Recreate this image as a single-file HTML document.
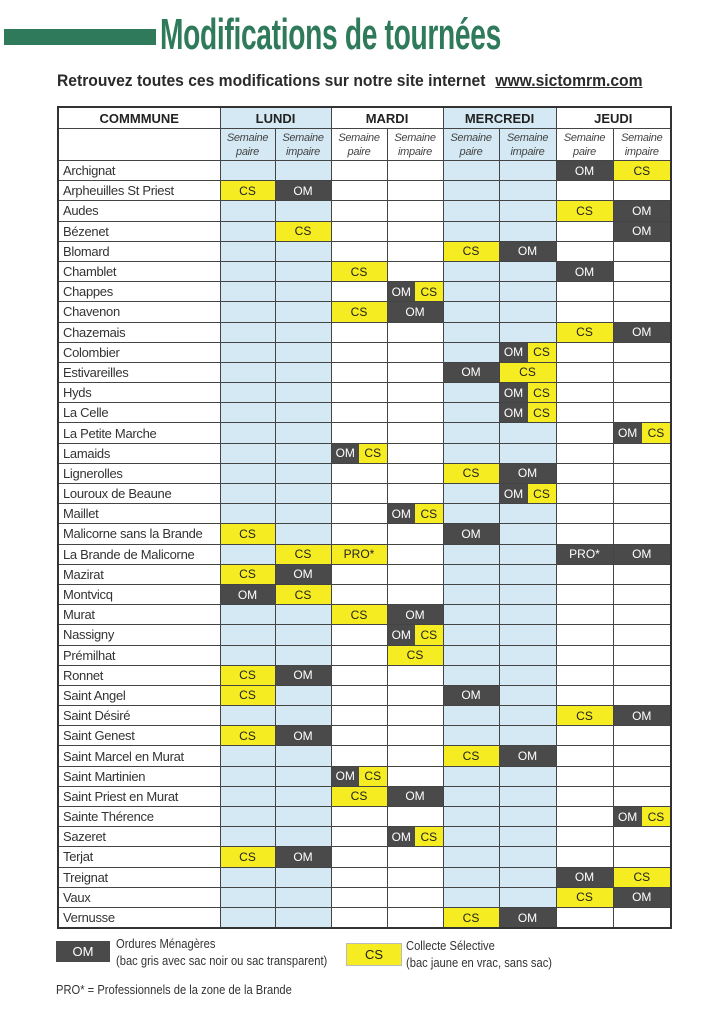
<!DOCTYPE html>
<html><head><meta charset="utf-8">
<style>
body{margin:0;width:724px;height:1024px;background:#fff;position:relative;overflow:hidden;font-family:"Liberation Sans",sans-serif;color:#333}
.bar{position:absolute;left:4px;top:29px;width:152px;height:16px;background:#2e7a5a}
.title{position:absolute;left:160px;top:10px;font-size:44px;font-weight:bold;color:#2e7a5a;white-space:nowrap;transform:scaleX(0.64);transform-origin:left top;letter-spacing:-0.5px}
.sub{position:absolute;left:57px;top:71px;font-size:17px;font-weight:bold;color:#2a2a2a;white-space:nowrap;transform:scaleX(0.92);transform-origin:left top}
.sub u{margin-left:6px}
table{position:absolute;left:57px;top:106px;border-collapse:collapse;table-layout:fixed;width:613px;border:2px solid #333}
td{border:1px solid #444;padding:0;height:19.2px;font-size:12px;text-align:center;white-space:nowrap;overflow:hidden}
td.n{text-align:left;padding-left:4px;font-size:13px;color:#333;letter-spacing:-0.3px}
tr.h td{height:20px;font-weight:bold;font-size:13px;color:#222}
tr.s td{height:31px;font-style:italic;font-size:11px;line-height:14px;color:#444;letter-spacing:-0.3px}
.b{background:#d4e9f3}
.O{background:#4a4a4a;color:#fff}
.C{background:#f6ec22;color:#222}
.G{background:#4a4a4a;color:#fff}
.sp{display:flex;height:100%}
.sp span{flex:1;display:flex;align-items:center;justify-content:center}
.sp .o{background:#4a4a4a;color:#fff}
.sp .c{background:#f6ec22;color:#222}
.leg{position:absolute;font-size:13px;color:#333;line-height:17px;white-space:nowrap;transform:scaleX(0.86);transform-origin:left top}
.box{position:absolute;height:21px;font-size:13px;text-align:center;line-height:21px}
</style></head><body>
<div class="bar"></div>
<div class="title">Modifications de tournées</div>
<div class="sub">Retrouvez toutes ces modifications sur notre site internet <u>www.sictomrm.com</u></div>
<table>
<colgroup><col style="width:162px"><col style="width:55px"><col style="width:56px"><col style="width:56px"><col style="width:56px"><col style="width:56px"><col style="width:57px"><col style="width:57px"><col style="width:58px"></colgroup>
<tr class="h"><td>COMMMUNE</td><td colspan="2" class="b">LUNDI</td><td colspan="2">MARDI</td><td colspan="2" class="b">MERCREDI</td><td colspan="2">JEUDI</td></tr>
<tr class="s"><td></td><td class="b">Semaine<br>paire</td><td class="b">Semaine<br>impaire</td><td>Semaine<br>paire</td><td>Semaine<br>impaire</td><td class="b">Semaine<br>paire</td><td class="b">Semaine<br>impaire</td><td>Semaine<br>paire</td><td>Semaine<br>impaire</td></tr>
<tr><td class="n">Archignat</td><td class="b"></td><td class="b"></td><td></td><td></td><td class="b"></td><td class="b"></td><td class="O">OM</td><td class="C">CS</td></tr>
<tr><td class="n">Arpheuilles St Priest</td><td class="C">CS</td><td class="O">OM</td><td></td><td></td><td class="b"></td><td class="b"></td><td></td><td></td></tr>
<tr><td class="n">Audes</td><td class="b"></td><td class="b"></td><td></td><td></td><td class="b"></td><td class="b"></td><td class="C">CS</td><td class="O">OM</td></tr>
<tr><td class="n">Bézenet</td><td class="b"></td><td class="C">CS</td><td></td><td></td><td class="b"></td><td class="b"></td><td></td><td class="O">OM</td></tr>
<tr><td class="n">Blomard</td><td class="b"></td><td class="b"></td><td></td><td></td><td class="C">CS</td><td class="O">OM</td><td></td><td></td></tr>
<tr><td class="n">Chamblet</td><td class="b"></td><td class="b"></td><td class="C">CS</td><td></td><td class="b"></td><td class="b"></td><td class="O">OM</td><td></td></tr>
<tr><td class="n">Chappes</td><td class="b"></td><td class="b"></td><td></td><td><div class="sp"><span class="o">OM</span><span class="c">CS</span></div></td><td class="b"></td><td class="b"></td><td></td><td></td></tr>
<tr><td class="n">Chavenon</td><td class="b"></td><td class="b"></td><td class="C">CS</td><td class="O">OM</td><td class="b"></td><td class="b"></td><td></td><td></td></tr>
<tr><td class="n">Chazemais</td><td class="b"></td><td class="b"></td><td></td><td></td><td class="b"></td><td class="b"></td><td class="C">CS</td><td class="O">OM</td></tr>
<tr><td class="n">Colombier</td><td class="b"></td><td class="b"></td><td></td><td></td><td class="b"></td><td><div class="sp"><span class="o">OM</span><span class="c">CS</span></div></td><td></td><td></td></tr>
<tr><td class="n">Estivareilles</td><td class="b"></td><td class="b"></td><td></td><td></td><td class="O">OM</td><td class="C">CS</td><td></td><td></td></tr>
<tr><td class="n">Hyds</td><td class="b"></td><td class="b"></td><td></td><td></td><td class="b"></td><td><div class="sp"><span class="o">OM</span><span class="c">CS</span></div></td><td></td><td></td></tr>
<tr><td class="n">La Celle</td><td class="b"></td><td class="b"></td><td></td><td></td><td class="b"></td><td><div class="sp"><span class="o">OM</span><span class="c">CS</span></div></td><td></td><td></td></tr>
<tr><td class="n">La Petite Marche</td><td class="b"></td><td class="b"></td><td></td><td></td><td class="b"></td><td class="b"></td><td></td><td><div class="sp"><span class="o">OM</span><span class="c">CS</span></div></td></tr>
<tr><td class="n">Lamaids</td><td class="b"></td><td class="b"></td><td><div class="sp"><span class="o">OM</span><span class="c">CS</span></div></td><td></td><td class="b"></td><td class="b"></td><td></td><td></td></tr>
<tr><td class="n">Lignerolles</td><td class="b"></td><td class="b"></td><td></td><td></td><td class="C">CS</td><td class="O">OM</td><td></td><td></td></tr>
<tr><td class="n">Louroux de Beaune</td><td class="b"></td><td class="b"></td><td></td><td></td><td class="b"></td><td><div class="sp"><span class="o">OM</span><span class="c">CS</span></div></td><td></td><td></td></tr>
<tr><td class="n">Maillet</td><td class="b"></td><td class="b"></td><td></td><td><div class="sp"><span class="o">OM</span><span class="c">CS</span></div></td><td class="b"></td><td class="b"></td><td></td><td></td></tr>
<tr><td class="n">Malicorne sans la Brande</td><td class="C">CS</td><td class="b"></td><td></td><td></td><td class="O">OM</td><td class="b"></td><td></td><td></td></tr>
<tr><td class="n">La Brande de Malicorne</td><td class="b"></td><td class="C">CS</td><td class="C">PRO*</td><td></td><td class="b"></td><td class="b"></td><td class="G">PRO*</td><td class="O">OM</td></tr>
<tr><td class="n">Mazirat</td><td class="C">CS</td><td class="O">OM</td><td></td><td></td><td class="b"></td><td class="b"></td><td></td><td></td></tr>
<tr><td class="n">Montvicq</td><td class="O">OM</td><td class="C">CS</td><td></td><td></td><td class="b"></td><td class="b"></td><td></td><td></td></tr>
<tr><td class="n">Murat</td><td class="b"></td><td class="b"></td><td class="C">CS</td><td class="O">OM</td><td class="b"></td><td class="b"></td><td></td><td></td></tr>
<tr><td class="n">Nassigny</td><td class="b"></td><td class="b"></td><td></td><td><div class="sp"><span class="o">OM</span><span class="c">CS</span></div></td><td class="b"></td><td class="b"></td><td></td><td></td></tr>
<tr><td class="n">Prémilhat</td><td class="b"></td><td class="b"></td><td></td><td class="C">CS</td><td class="b"></td><td class="b"></td><td></td><td></td></tr>
<tr><td class="n">Ronnet</td><td class="C">CS</td><td class="O">OM</td><td></td><td></td><td class="b"></td><td class="b"></td><td></td><td></td></tr>
<tr><td class="n">Saint Angel</td><td class="C">CS</td><td class="b"></td><td></td><td></td><td class="O">OM</td><td class="b"></td><td></td><td></td></tr>
<tr><td class="n">Saint Désiré</td><td class="b"></td><td class="b"></td><td></td><td></td><td class="b"></td><td class="b"></td><td class="C">CS</td><td class="O">OM</td></tr>
<tr><td class="n">Saint Genest</td><td class="C">CS</td><td class="O">OM</td><td></td><td></td><td class="b"></td><td class="b"></td><td></td><td></td></tr>
<tr><td class="n">Saint Marcel en Murat</td><td class="b"></td><td class="b"></td><td></td><td></td><td class="C">CS</td><td class="O">OM</td><td></td><td></td></tr>
<tr><td class="n">Saint Martinien</td><td class="b"></td><td class="b"></td><td><div class="sp"><span class="o">OM</span><span class="c">CS</span></div></td><td></td><td class="b"></td><td class="b"></td><td></td><td></td></tr>
<tr><td class="n">Saint Priest en Murat</td><td class="b"></td><td class="b"></td><td class="C">CS</td><td class="O">OM</td><td class="b"></td><td class="b"></td><td></td><td></td></tr>
<tr><td class="n">Sainte Thérence</td><td class="b"></td><td class="b"></td><td></td><td></td><td class="b"></td><td class="b"></td><td></td><td><div class="sp"><span class="o">OM</span><span class="c">CS</span></div></td></tr>
<tr><td class="n">Sazeret</td><td class="b"></td><td class="b"></td><td></td><td><div class="sp"><span class="o">OM</span><span class="c">CS</span></div></td><td class="b"></td><td class="b"></td><td></td><td></td></tr>
<tr><td class="n">Terjat</td><td class="C">CS</td><td class="O">OM</td><td></td><td></td><td class="b"></td><td class="b"></td><td></td><td></td></tr>
<tr><td class="n">Treignat</td><td class="b"></td><td class="b"></td><td></td><td></td><td class="b"></td><td class="b"></td><td class="O">OM</td><td class="C">CS</td></tr>
<tr><td class="n">Vaux</td><td class="b"></td><td class="b"></td><td></td><td></td><td class="b"></td><td class="b"></td><td class="C">CS</td><td class="O">OM</td></tr>
<tr><td class="n">Vernusse</td><td class="b"></td><td class="b"></td><td></td><td></td><td class="C">CS</td><td class="O">OM</td><td></td><td></td></tr>
</table>
<div class="box" style="left:56px;top:941px;width:54px;background:#4a4a4a;color:#fff">OM</div>
<div class="leg" style="left:116px;top:935px">Ordures Ménagères<br>(bac gris avec sac noir ou sac transparent)</div>
<div class="box" style="left:346px;top:943px;width:54px;background:#f6ec22;color:#222;border:1px solid #bbb">CS</div>
<div class="leg" style="left:406px;top:937px">Collecte Sélective<br>(bac jaune en vrac, sans sac)</div>
<div class="leg" style="left:56px;top:981px">PRO* = Professionnels de la zone de la Brande</div>
</body></html>
